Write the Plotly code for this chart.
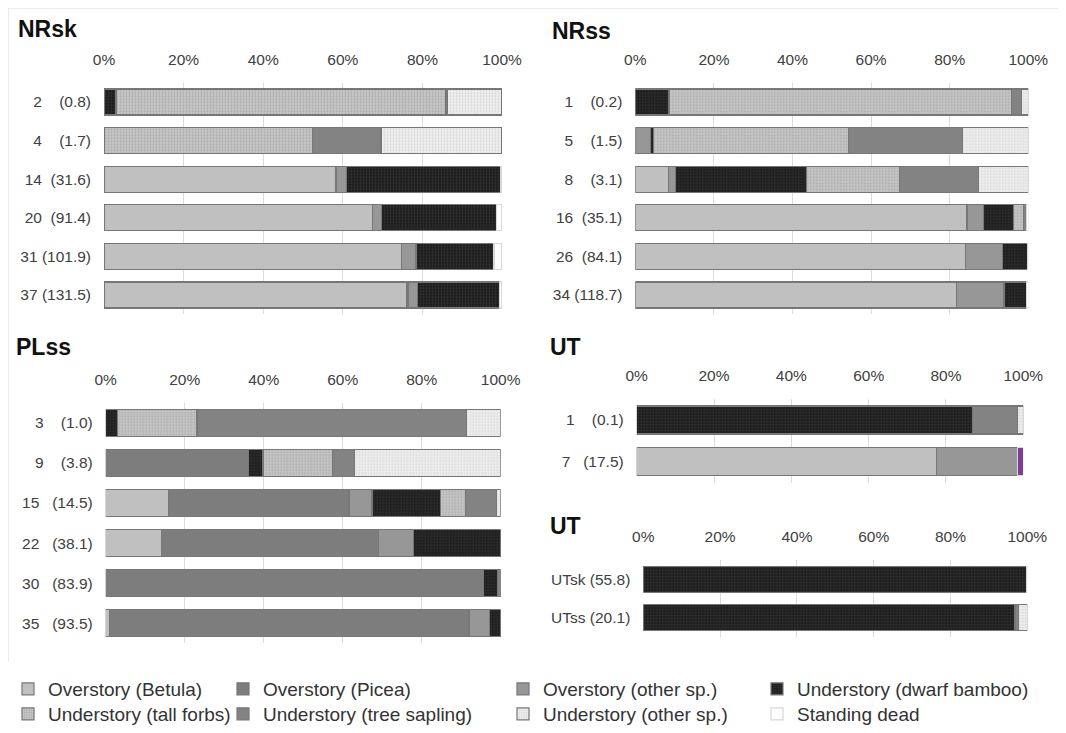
import plotly.graph_objects as go

# the page body has an 8px margin, so the figure is 16px smaller than the window
OFF = 8
W, H = 1066 - 2 * OFF, 733 - 2 * OFF

series_names = [
    "Overstory (Betula)", "Overstory (Picea)", "Overstory (other sp.)",
    "Understory (dwarf bamboo)", "Understory (tall forbs)",
    "Understory (tree sapling)", "Understory (other sp.)", "Standing dead",
]
tick_vals = [0, 20, 40, 60, 80, 100]
tick_text = ["0%", "20%", "40%", "60%", "80%", "100%"]

NB = "\u00a0"
# ---- NRsk ----
nrsk_labels = ["2" + NB * 4 + "(0.8)", "4" + NB * 4 + "(1.7)", "14" + NB * 2 + "(31.6)",
               "20" + NB * 2 + "(91.4)", "31" + NB + "(101.9)", "37" + NB + "(131.5)"]
nrsk_betula = [0, 0, 58.3, 67.5, 74.8, 76.0]
nrsk_picea = [0, 0, 0, 0, 0, 0.4]
nrsk_other = [0, 0, 2.6, 2.2, 3.6, 2.4]
nrsk_bamboo = [3.0, 0, 38.8, 29.0, 19.6, 20.5]
nrsk_forbs = [82.8, 52.4, 0, 0, 0, 0]
nrsk_sapling = [0.4, 17.2, 0, 0, 0, 0]
nrsk_under_other = [13.8, 30.4, 0, 0, 0, 0]
nrsk_dead = [0, 0, 0.3, 1.3, 2.0, 0.7]

# ---- NRss ----
nrss_labels = ["1" + NB * 4 + "(0.2)", "5" + NB * 4 + "(1.5)", "8" + NB * 4 + "(3.1)",
               "16" + NB * 2 + "(35.1)", "26" + NB * 2 + "(84.1)", "34" + NB + "(118.7)"]
nrss_betula = [0, 0, 8.4, 84.4, 84.0, 81.8]
nrss_picea = [0, 0, 0, 0, 0, 0]
nrss_other = [0, 3.9, 1.9, 4.3, 9.5, 12.0]
nrss_bamboo = [8.6, 0.8, 33.2, 7.5, 6.3, 5.8]
nrss_forbs = [87.2, 49.5, 23.7, 2.6, 0, 0]
nrss_sapling = [2.4, 29.0, 20.1, 0.8, 0, 0]
nrss_under_other = [1.8, 16.8, 12.7, 0, 0, 0]
nrss_dead = [0, 0, 0, 0.4, 0.2, 0.4]

# ---- PLss ----
plss_labels = ["3" + NB * 4 + "(1.0)", "9" + NB * 4 + "(3.8)", "15" + NB * 3 + "(14.5)",
               "22" + NB * 3 + "(38.1)", "30" + NB * 3 + "(83.9)", "35" + NB * 3 + "(93.5)"]
plss_betula = [0, 0, 15.9, 14.2, 0, 0.9]
plss_picea = [0, 36.1, 45.7, 54.8, 95.6, 91.1]
plss_other = [0, 0, 5.8, 9.0, 0, 5.1]
plss_bamboo = [3.0, 3.7, 17.3, 22.0, 3.5, 2.9]
plss_forbs = [20.1, 17.6, 6.4, 0, 0, 0]
plss_sapling = [68.2, 5.6, 7.8, 0, 0.9, 0]
plss_under_other = [8.7, 37.0, 1.1, 0, 0, 0]
plss_dead = [0, 0, 0, 0, 0, 0]

# ---- UT (plots) ----
ut1_labels = ["1" + NB * 4 + "(0.1)", "7" + NB * 3 + "(17.5)"]
ut1_betula = [0, 77.6]
ut1_picea = [0, 0]
ut1_other = [0, 21.0]
ut1_bamboo = [86.8, 0]
ut1_forbs = [0, 0]
ut1_sapling = [11.8, 0]
ut1_under_other = [1.4, 0]
ut1_dead = [0, 1.4]

# ---- UT (stands) ----
ut2_labels = ["UTsk" + NB + "(55.8)", "UTss" + NB + "(20.1)"]
ut2_betula = [0, 0]
ut2_picea = [0, 0]
ut2_other = [0, 0]
ut2_bamboo = [99.8, 96.8]
ut2_forbs = [0, 0]
ut2_sapling = [0, 0.9]
ut2_under_other = [0, 2.3]
ut2_dead = [0.2, 0]

panel_titles = ["NRsk", "NRss", "PLss", "UT", "UT"]
panel_labels = [nrsk_labels, nrss_labels, plss_labels, ut1_labels, ut2_labels]
panel_series = [
    [nrsk_betula, nrsk_picea, nrsk_other, nrsk_bamboo, nrsk_forbs, nrsk_sapling, nrsk_under_other, nrsk_dead],
    [nrss_betula, nrss_picea, nrss_other, nrss_bamboo, nrss_forbs, nrss_sapling, nrss_under_other, nrss_dead],
    [plss_betula, plss_picea, plss_other, plss_bamboo, plss_forbs, plss_sapling, plss_under_other, plss_dead],
    [ut1_betula, ut1_picea, ut1_other, ut1_bamboo, ut1_forbs, ut1_sapling, ut1_under_other, ut1_dead],
    [ut2_betula, ut2_picea, ut2_other, ut2_bamboo, ut2_forbs, ut2_sapling, ut2_under_other, ut2_dead],
]

# ---- styling (pixel geometry of the reference, window coordinates) ----
panel_box = [  # x0, x1, ytop, ybottom
    (104, 502, 82.7, 314.3),
    (635.3, 1028.3, 82.7, 314.3),
    (105.7, 500.7, 402.6, 643.4),
    (636.7, 1023.3, 399.2, 482.5),
    (643.3, 1027.3, 560.1, 636.9),
]
title_pos = [(16, 29), (550, 31), (14, 347), (548, 347), (548, 526)]


def px(x):
    return (x - OFF) / W


def py(y):
    return 1 - (y - OFF) / H


styles = [
    dict(color="#c0c0c0"),
    dict(color="#7d7d7d"),
    dict(color="#979797"),
    dict(color="#1c1c1c", pattern=dict(shape=".", fgcolor="#4d4d4d", size=3, solidity=0.35, fillmode="overlay")),
    dict(color="#c6c6c6", pattern=dict(shape=".", fgcolor="#8c8c8c", size=3, solidity=0.3, fillmode="overlay")),
    dict(color="#838383"),
    dict(color="#eeeeee", pattern=dict(shape=".", fgcolor="#bdbdbd", size=3, solidity=0.3, fillmode="overlay")),
    dict(color="#ffffff"),
]
line_colors = ["#777777"] * 7 + ["#d8d8d8"]

legend_x = [8, 223, 503, 757]
legend_rows_y = [689, 714]

fig = go.Figure()

for p in range(5):
    ax = "" if p == 0 else str(p + 1)
    for s in range(8):
        vals = [v if v > 0 else None for v in panel_series[p][s]]
        st = dict(styles[s])
        if p == 3 and s == 7:
            st["color"] = ["#ffffff", "#7b3f98"]
        lg = "legend" if s == 0 else f"legend{s + 1}"
        fig.add_trace(go.Bar(
            x=vals, y=panel_labels[p], orientation="h",
            name=series_names[s],
            marker=dict(**st, line=dict(color=line_colors[s], width=1.2)),
            xaxis="x" + ax, yaxis="y" + ax,
            showlegend=(p == 0), legend=lg, legendgroup=series_names[s],
            hovertemplate="%{y}: %{x:.1f}%<extra>" + series_names[s] + "</extra>",
        ))

layout = dict(
    width=W, height=H, margin=dict(l=0, r=0, t=0, b=0, autoexpand=False),
    paper_bgcolor="white", plot_bgcolor="white",
    barmode="stack", bargap=0.33,
    font=dict(family="Liberation Sans, Arial, sans-serif", color="#404040"),
    template="none",
)
for p in range(5):
    ax = "" if p == 0 else str(p + 1)
    x0, x1, yt, yb = panel_box[p]
    layout["xaxis" + ax] = dict(
        domain=[px(x0), px(x1)], range=[0, 100], side="top",
        anchor="y" + ax, tickvals=tick_vals, ticktext=tick_text,
        showgrid=True, gridcolor="#dcdcdc", gridwidth=1, zeroline=False,
        showline=False, ticks="", ticklabelstandoff=14,
        tickfont=dict(size=15.5, color="#404040"), fixedrange=True, automargin=False,
    )
    layout["yaxis" + ax] = dict(
        domain=[py(yb), py(yt)], anchor="x" + ax, type="category",
        autorange="reversed", showgrid=False, zeroline=False, showline=False,
        ticks="", ticklabelstandoff=12,
        tickfont=dict(size=15.5, color="#404040"), fixedrange=True, automargin=False,
    )

for s in range(8):
    col, row = s % 4, s // 4
    key = "legend" if s == 0 else f"legend{s + 1}"
    layout[key] = dict(
        x=px(legend_x[col]), xanchor="left",
        y=py(legend_rows_y[row]), yanchor="middle",
        bgcolor="rgba(0,0,0,0)", borderwidth=0,
        font=dict(family="Liberation Sans, Arial, sans-serif", size=19, color="#333333"),
    )

fig.update_layout(**layout)

annotations = []
for p in range(5):
    tx, ty = title_pos[p]
    annotations.append(dict(
        text="<b>" + panel_titles[p] + "</b>", x=px(tx), y=py(ty),
        xref="paper", yref="paper", xanchor="left", yanchor="middle",
        showarrow=False, font=dict(size=23, color="#111111", family="Liberation Sans, Arial, sans-serif"),
    ))
fig.update_layout(annotations=annotations)

fig.add_shape(type="line", xref="paper", yref="paper", x0=0, x1=1, y0=1, y1=1,
              line=dict(color="#e6e6e6", width=1.5))
fig.add_shape(type="line", xref="paper", yref="paper", x0=0, x1=0, y0=1, y1=py(662),
              line=dict(color="#e6e6e6", width=1.5))

fig.write_html("out.html")
